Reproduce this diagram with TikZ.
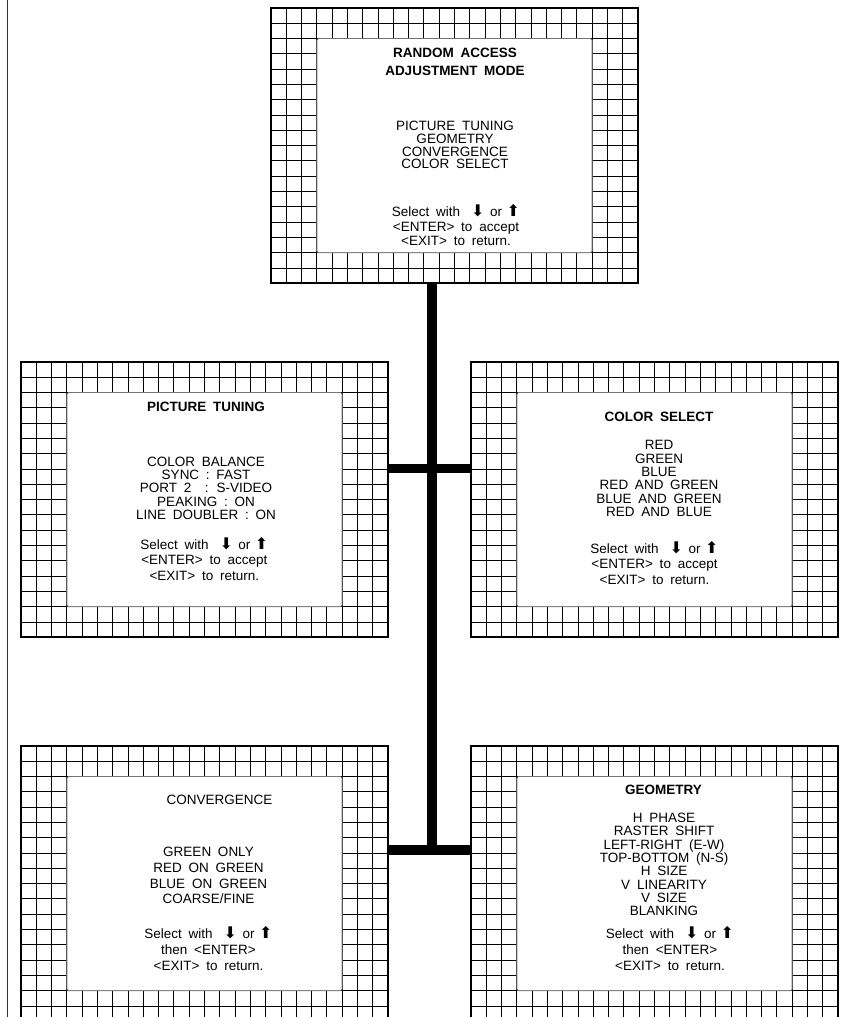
\documentclass[tikz,border=0pt]{standalone}
\usepackage{fontspec}
\setmainfont{Liberation Sans}[WordSpace=1.8]
\newfontfamily\arrfont{DejaVu Sans}
\newcommand\arrdn{{\arrfont\fontsize{16}{16}\selectfont ⬇}}
\newcommand\arrup{{\arrfont\fontsize{16}{16}\selectfont ⬆}}
\newcommand\selline{Select with\hspace{11pt}\arrdn\hspace{5.5pt}or\hspace{4.5pt}\arrup}
\def\cell{15.2917}
\newcommand\gridbox[3]{%
  \node[menubox] (#1) at (#2,#3) {};
  \begin{scope}[shift={(#2,#3)}]
    \foreach \ii in {0,...,24} \draw[gl] ({\ii*\cell},0) -- ({\ii*\cell},{18*\cell});
    \foreach \jj in {0,...,18} \draw[gl] (0,{\jj*\cell}) -- ({24*\cell},{\jj*\cell});
    \draw[frame] (0,0) rectangle ({24*\cell},{18*\cell});
    \draw[screen] ({3*\cell},{2*\cell}) rectangle ({21*\cell},{16*\cell});
  \end{scope}}
\newcommand\menulines[6]{% style, name, x, y0, pitch, list
  \foreach \mtxt [count=\kk] in {#6} {
    \node[#1] (#2\kk) at (#3,{#4+(\kk-1)*#5}) {\mtxt};
  }}
\begin{document}
\begin{tikzpicture}[x=1pt,y=-1pt,
  gl/.style={line width=0.9pt, black},
  frame/.style={line width=2pt, black},
  screen/.style={fill=white, draw=black!55, line width=0.8pt, rounded corners=1.5pt},
  bus/.style={line width=9.5pt, black, line cap=butt},
  txt/.style={anchor=base, inner sep=0pt, font=\fontsize{13.5}{13.5}\selectfont},
  ttl/.style={txt, font=\fontsize{13.5}{13.5}\selectfont\bfseries},
  menubox/.style={rectangle, draw=none, minimum width=367pt, minimum height=275.2pt, inner sep=0pt, anchor=north west}]
\useasboundingbox (0,0) rectangle (845,1017);
\clip (0,0) rectangle (845,1017);
\fill[white] (0,0) rectangle (845,1017);
\draw[line width=1.3pt, black!80] (7.5,0) -- (7.5,1017);

\gridbox{top}{271}{8}
\gridbox{ml}{21}{362}
\gridbox{mr}{471}{362}
\gridbox{bl}{21}{746}
\gridbox{br}{471}{746}

\coordinate (j1) at (432,468.5);
\coordinate (j2) at (432,850);
\draw[bus] (top.south -| j1) -- (j2);
\draw[bus] (ml.east |- j1) -- (mr.west |- j1);
\draw[bus] (bl.east |- j2) -- (br.west |- j2);

% top menu
\menulines{ttl}{ta}{455}{57.8}{17.7}{RANDOM ACCESS,ADJUSTMENT MODE}
\menulines{txt}{ti}{455}{130.5}{12.8}{PICTURE TUNING,GEOMETRY,CONVERGENCE,COLOR SELECT}
\menulines{txt}{ts}{456}{216.5}{14.5}{{\selline},{<ENTER> to accept},{<EXIT> to return.}}

% picture tuning
\menulines{ttl}{pa}{206}{411.8}{14}{PICTURE TUNING}
\menulines{txt}{pi}{206}{466.5}{13.2}{COLOR BALANCE,SYNC : FAST,{PORT 2\ \ : S-VIDEO},PEAKING : ON,LINE DOUBLER : ON}
\menulines{txt}{ps}{204.3}{549}{15.9}{{\selline},{<ENTER> to accept},{<EXIT> to return.}}

% color select
\menulines{ttl}{ca}{659}{421.5}{14}{COLOR SELECT}
\menulines{txt}{ci}{659}{449.8}{13.3}{RED,GREEN,BLUE,RED AND GREEN,BLUE AND GREEN,RED AND BLUE}
\menulines{txt}{cs}{654.5}{553}{15.8}{{\selline},{<ENTER> to accept},{<EXIT> to return.}}

% convergence
\menulines{txt}{va}{219.5}{804.8}{14}{CONVERGENCE}
\menulines{txt}{vi}{208.5}{856.5}{15.8}{GREEN ONLY,RED ON GREEN,BLUE ON GREEN,COARSE/FINE}
\menulines{txt}{vs}{208.5}{938}{16.2}{{\selline},{then <ENTER>},{<EXIT> to return.}}

% geometry
\menulines{ttl}{ga}{663.5}{794.8}{14}{GEOMETRY}
\menulines{txt}{gi}{664}{822.5}{13.33}{H PHASE,RASTER SHIFT,LEFT-RIGHT (E-W),TOP-BOTTOM (N-S),H SIZE,V LINEARITY,V SIZE,BLANKING}
\menulines{txt}{gs}{670}{938}{16.2}{{\selline},{then <ENTER>},{<EXIT> to return.}}
\end{tikzpicture}
\end{document}
